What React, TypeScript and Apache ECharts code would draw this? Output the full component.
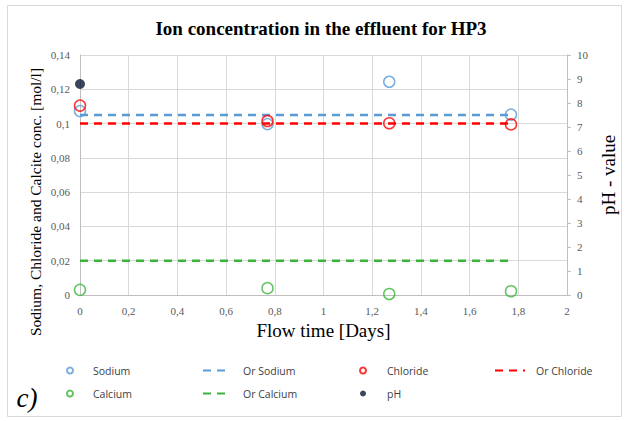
import React, { useEffect, useRef } from "react";
import * as echarts from "echarts";

const flowDays = [0, 0.77, 1.27, 1.77];
const sodium = [0.1073, 0.0997, 0.1244, 0.1052];
const chloride = [0.1105, 0.1015, 0.1002, 0.0995];
const calcium = [0.003, 0.004, 0.0006, 0.0022];
const phDays = [0];
const phValues = [8.79];
const orSodium = 0.105;
const orChloride = 0.1;
const orCalcium = 0.02;
const orRange = [0, 1.77];

const serif = "'Liberation Serif', 'DejaVu Serif', serif";
const sans = "'Open Sans', 'Liberation Sans', sans-serif";

const BLUE = "#5b9bd5";
const RED = "#ff0000";
const GREEN = "#3cb43c";
const DARK = "#0b1633";

function fmt(v: number) {
  const s = String(parseFloat(v.toFixed(3)));
  return s.replace(".", ",");
}

export default function App() {
  const ref = useRef<HTMLDivElement>(null);
  useEffect(() => {
    if (!ref.current) return;
    const chart = echarts.init(ref.current, null, { renderer: "svg" });
    const pairs = (xs: number[], ys: number[]) => xs.map((x, i) => [x, ys[i]]);
    const hollow = (name: string, color: string, ys: number[]) => ({
      name,
      type: "scatter",
      data: pairs(flowDays, ys),
      symbol: "circle",
      symbolSize: 11,
      itemStyle: { color: "rgba(255,255,255,0)", borderColor: color, borderWidth: 1.5 },
      z: 5,
    });
    const orLine = (name: string, color: string, v: number) => ({
      name,
      type: "line",
      data: orRange.map((x) => [x, v]),
      symbol: "none",
      lineStyle: { color, width: 2.5, type: [8, 6] },
      itemStyle: { color },
      z: 3,
    });
    const legendBase = {
      orient: "vertical",
      itemGap: 12,
      padding: 0,
      textStyle: { fontFamily: sans, fontSize: 10.5, color: "#404040" },
    };
    chart.setOption({
      animation: false,
      backgroundColor: "#fff",
      title: {
        text: "Ion concentration in the effluent for HP3",
        left: 321,
        top: 19,
        padding: 0,
        textAlign: "center",
        textStyle: { fontFamily: serif, fontWeight: "bold", fontSize: 19, color: "#000" },
      },
      grid: { left: 80, right: 63, top: 55, bottom: 126, containLabel: false },
      xAxis: {
        type: "value",
        min: 0,
        max: 2,
        interval: 0.2,
        name: "Flow time [Days]",
        nameLocation: "middle",
        nameGap: 24,
        nameTextStyle: { fontFamily: serif, fontSize: 19, color: "#000" },
        axisLine: { show: true, lineStyle: { color: "#bfbfbf", width: 1 } },
        axisTick: { show: false },
        axisLabel: { fontFamily: serif, fontSize: 11, color: "#595959", margin: 10, formatter: fmt },
        splitLine: { show: true, lineStyle: { color: "#d9d9d9", width: 1 } },
      },
      yAxis: [
        {
          type: "value",
          min: 0,
          max: 0.14,
          interval: 0.02,
          axisLine: { show: true, lineStyle: { color: "#bfbfbf", width: 1 } },
          axisTick: { show: false },
          axisLabel: { fontFamily: serif, fontSize: 11, color: "#595959", margin: 10, formatter: fmt },
          splitLine: { show: true, lineStyle: { color: "#d9d9d9", width: 1 } },
        },
        {
          type: "value",
          min: 0,
          max: 10,
          interval: 1,
          position: "right",
          name: "pH - value",
          nameLocation: "middle",
          nameRotate: 90,
          nameGap: 26,
          nameTextStyle: { fontFamily: serif, fontSize: 19, color: "#000" },
          axisLine: { show: true, lineStyle: { color: "#bfbfbf", width: 1 } },
          axisTick: { show: true, length: 4, lineStyle: { color: "#bfbfbf" } },
          axisLabel: { fontFamily: serif, fontSize: 11, color: "#595959", margin: 10 },
          splitLine: { show: false },
        },
      ],
      legend: [
        {
          ...legendBase,
          left: 66,
          top: 365,
          itemWidth: 6,
          itemHeight: 6,
          data: ["Sodium", "Calcium"],
          textStyle: { ...legendBase.textStyle, padding: [0, 0, 0, 15] },
        },
        {
          ...legendBase,
          left: 202,
          top: 365,
          itemWidth: 26,
          itemHeight: 8,
          itemStyle: { opacity: 0 },
          data: ["Or Sodium", "Or Calcium"],
          textStyle: { ...legendBase.textStyle, padding: [0, 0, 0, 9] },
        },
        {
          ...legendBase,
          left: 359,
          top: 365,
          itemWidth: 6,
          itemHeight: 6,
          data: ["Chloride", "pH"],
          textStyle: { ...legendBase.textStyle, padding: [0, 0, 0, 16] },
        },
        {
          ...legendBase,
          left: 494,
          top: 365,
          itemWidth: 30,
          itemHeight: 8,
          itemStyle: { opacity: 0 },
          data: ["Or Chloride"],
          textStyle: { ...legendBase.textStyle, padding: [0, 0, 0, 6] },
        },
      ],
      graphic: [
        {
          type: "rect",
          shape: { x: 7.5, y: 5.5, width: 614, height: 411 },
          style: { fill: "none", stroke: "#d9d9d9", lineWidth: 1 },
          z: -1,
        },
        {
          type: "text",
          x: 35,
          y: 202,
          rotation: Math.PI / 2,
          style: {
            text: "Sodium, Chloride and Calcite conc. [mol/l]",
            fontFamily: serif,
            fontSize: 15.5,
            fill: "#000",
            align: "center",
            verticalAlign: "middle",
          },
        },
        {
          type: "text",
          x: 27,
          y: 398,
          style: {
            text: "c)",
            fontFamily: serif,
            fontStyle: "italic",
            fontSize: 27,
            fill: "#000",
            align: "center",
            verticalAlign: "middle",
          },
        },
      ],
      series: [
        orLine("Or Sodium", BLUE, orSodium),
        orLine("Or Chloride", RED, orChloride),
        orLine("Or Calcium", GREEN, orCalcium),
        hollow("Sodium", BLUE, sodium),
        hollow("Chloride", RED, chloride),
        hollow("Calcium", GREEN, calcium),
        {
          name: "pH",
          type: "scatter",
          yAxisIndex: 1,
          data: pairs(phDays, phValues),
          symbol: "circle",
          symbolSize: 10,
          itemStyle: { color: DARK },
          z: 6,
        },
      ],
    });
    return () => chart.dispose();
  }, []);
  return (
    <div
      ref={ref}
      style={{ position: "fixed", left: 0, top: 0, width: 630, height: 421, background: "#fff" }}
    />
  );
}
